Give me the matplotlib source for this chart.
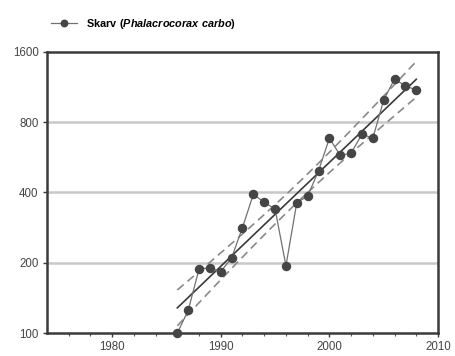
import numpy as np
import matplotlib
matplotlib.use("Agg")
import matplotlib.pyplot as plt
from matplotlib.ticker import FixedLocator, NullFormatter

# Skarv (Phalacrocorax carbo), annual counts
years = [1986, 1987, 1988, 1989, 1990, 1991, 1992, 1993, 1994, 1995, 1996,
         1997, 1998, 1999, 2000, 2001, 2002, 2003, 2004, 2005, 2006, 2007, 2008]
counts = [100, 125, 188, 190, 183, 210, 283, 393, 363, 340, 194,
          362, 386, 495, 683, 577, 589, 712, 683, 996, 1226, 1144, 1100]
y_ticks = [100, 200, 400, 800, 1600]
x_ticks = [1980, 1990, 2000, 2010]

plt.rcParams['font.family'] = ['Liberation Sans', 'DejaVu Sans']
plt.rcParams['mathtext.fontset'] = 'custom'
plt.rcParams['mathtext.bf'] = 'Liberation Sans:bold'
plt.rcParams['mathtext.bfit'] = 'Liberation Sans:bold:italic'

fig = plt.figure(figsize=(4.55, 3.56), dpi=100)
ax = fig.add_axes([0.1033, 0.0646, 0.8593, 0.7894])

# log-linear regression with 95% confidence band
x = np.array(years, dtype=float)
ly = np.log(np.array(counts, dtype=float))
b, a = np.polyfit(x, ly, 1)
n = len(x)
resid = ly - (a + b * x)
s = np.sqrt(np.sum(resid ** 2) / (n - 2))
xf = np.linspace(x.min(), x.max(), 100)
se = s * np.sqrt(1.0 / n + (xf - x.mean()) ** 2 / np.sum((x - x.mean()) ** 2))
t = 2.08
fit = a + b * xf

ax.plot(xf, np.exp(fit), color='#3a3a3a', lw=1.2, zorder=3)
ax.plot(xf, np.exp(fit + t * se), color='#8a8a8a', lw=1.2, ls=(0, (5, 3)), zorder=3)
ax.plot(xf, np.exp(fit - t * se), color='#8a8a8a', lw=1.2, ls=(0, (5, 3)), zorder=3)

line, = ax.plot(years, counts, color='#707070', lw=0.9, marker='o', ms=5.8,
                mfc='#454545', mec='#454545', zorder=4, clip_on=False)

ax.set_yscale('log')
ax.set_ylim(100, 1600)
ax.set_xlim(1974, 2010)
ax.yaxis.set_major_locator(FixedLocator(y_ticks))
ax.yaxis.set_minor_locator(FixedLocator([]))
ax.set_yticklabels([str(v) for v in y_ticks])
ax.yaxis.set_minor_formatter(NullFormatter())
ax.xaxis.set_major_locator(FixedLocator(x_ticks))
ax.xaxis.set_minor_locator(FixedLocator(np.arange(1976, 2010, 2)))

for v in y_ticks[1:-1]:
    ax.axhline(v, color='#c8c8c8', lw=1.8, zorder=1)

for sp in ax.spines.values():
    sp.set_linewidth(1.8)
    sp.set_color('#3a3a3a')

ax.tick_params(axis='both', which='major', labelsize=8.3, length=3, width=1,
               color='#3a3a3a', labelcolor='#454545', pad=3)
ax.tick_params(axis='x', which='minor', length=2, width=0.8, color='#555555')

# legend above the plot
ax.legend([line], [r'$\mathbf{Skarv\ (}\mathbfit{Phalacrocorax\ carbo}\mathbf{)}$'],
          loc='lower left', bbox_to_anchor=(0.0, 1.06), frameon=False,
          fontsize=7.8, handlelength=2.4, handletextpad=0.8, borderaxespad=0,
          markerscale=0.8)

fig.savefig('out.png', dpi=100)
